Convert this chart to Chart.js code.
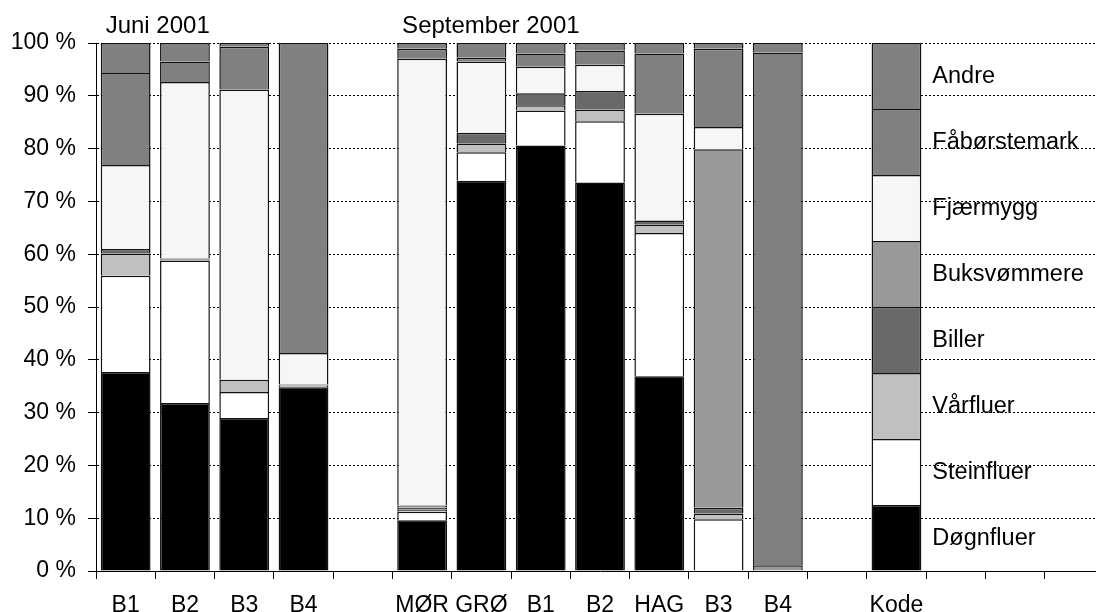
<!DOCTYPE html>
<html>
<head>
<meta charset="utf-8">
<script src="https://cdn.jsdelivr.net/npm/chart.js@4"></script>
<style>
    html, body { margin: 0; padding: 0; background: #fff; overflow: hidden; }
    #wrap { width: 1096px; height: 612px; overflow: hidden; }
</style>
</head>
<body>
<div id="wrap"><canvas id="myChart" width="1110" height="620"></canvas></div>
<script>
// data
const categories = ["B1", "B2", "B3", "B4", "", "MØR", "GRØ", "B1", "B2", "HAG", "B3", "B4", "", "Kode", "", "", ""]

const dognfluer    = [37.7, 31.8, 29.0, 34.8, null, 9.6, 73.9, 80.6, 73.6, 36.9, 0, 0, null, 12.5, null, null, null]
const steinfluer   = [18.2, 27.0, 4.9, 0.3, null, 1.6, 5.4, 6.6, 11.6, 27.1, 9.8, 0, null, 12.5, null, null, null]
const varfluer     = [4.2, 0.2, 2.3, 0.2, null, 0.4, 1.6, 1.0, 2.2, 1.6, 1.1, 0, null, 12.5, null, null, null]
const biller       = [0.9, 0.2, 0, 0, null, 0.4, 2.1, 2.3, 3.5, 0.8, 1.1, 0, null, 12.5, null, null, null]
const buksvommere  = [0, 0, 0, 0, null, 0.4, 0, 0, 0, 0, 67.9, 1.1, null, 12.5, null, null, null]
const fjaermygg    = [15.9, 33.4, 55.0, 6.0, null, 84.6, 13.5, 5.0, 5.0, 20.2, 4.2, 0, null, 12.5, null, null, null]
const faborstemark = [17.4, 3.9, 8.1, 58.7, null, 1.9, 0.7, 2.5, 2.7, 11.4, 14.8, 97.1, null, 12.5, null, null, null]
const andre        = [5.7, 3.5, 0.7, 0, null, 1.1, 2.8, 2.0, 1.4, 2.0, 1.1, 1.8, null, 12.5, null, null, null]

const seriesNames = ["Døgnfluer", "Steinfluer", "Vårfluer", "Biller", "Buksvømmere", "Fjærmygg", "Fåbørstemark", "Andre"]
const seriesData = [dognfluer, steinfluer, varfluer, biller, buksvommere, fjaermygg, faborstemark, andre]
const seriesColors = ["#000000", "#ffffff", "#c0c0c0", "#696969", "#999999", "#f6f6f6", "#808080", "#808080"]

const groupTitles = ["Juni 2001", "September 2001"]
const groupStart = [0, 5]
const keyIndex = 13

const yTicks = [0, 10, 20, 30, 40, 50, 60, 70, 80, 90, 100]

const FONT = '"Liberation Sans", Arial, sans-serif'

function main() {
    buildChart("myChart")
}

// functions
function buildChart(canvasId) {
    const ctx = document.getElementById(canvasId)

    new Chart(ctx, {
        type: 'bar',
        data: {
            labels: categories,
            datasets: chartDatasets()
        },
        options: chartOptions(),
        plugins: [textPlugin]
    })
}

function chartDatasets() {
    return seriesNames.map((name, i) => ({
        label: name,
        data: seriesData[i],
        backgroundColor: seriesColors[i],
        borderColor: '#111',
        borderWidth: 1.5,
        barPercentage: 0.84,
        categoryPercentage: 1
    }))
}

function chartOptions() {
    return {
        responsive: false,
        animation: false,
        layout: { padding: { top: 43, right: 6, left: 0, bottom: 0 } },
        plugins: {
            legend: { display: false },
            tooltip: { enabled: false }
        },
        scales: {
            x: {
                stacked: true,
                grid: { drawOnChartArea: false, tickLength: 8, color: '#000', offset: true },
                border: { color: '#000' },
                ticks: { color: '#000', font: { family: FONT, size: 23 }, padding: 13, maxRotation: 0, autoSkip: false },
                afterFit(scale) { scale.height = 49 }
            },
            y: {
                stacked: true,
                min: 0,
                max: 100,
                afterBuildTicks(scale) { scale.ticks = yTicks.map(v => ({ value: v })) },
                grid: { color: '#000', tickLength: 8 },
                border: { color: '#000', dash: [2, 2] },
                ticks: {
                    color: '#000',
                    font: { family: FONT, size: 23 },
                    padding: 12,
                    callback: v => v + ' %'
                },
                afterFit(scale) { scale.width = 96 }
            }
        }
    }
}

// titles over the groups and the key labels next to the "Kode" bar
const textPlugin = {
    id: 'textPlugin',
    afterDatasetsDraw(chart) {
        const { ctx } = chart
        const x = chart.scales.x
        const y = chart.scales.y
        ctx.save()
        ctx.fillStyle = '#000'

        ctx.font = '24px ' + FONT
        ctx.textAlign = 'left'
        ctx.textBaseline = 'alphabetic'
        groupTitles.forEach((t, i) => {
            ctx.fillText(t, x.getPixelForValue(groupStart[i]) - 20, 33)
        })

        const bar = chart.getDatasetMeta(0).data[keyIndex]
        const left = bar.x + bar.width / 2 + 11
        ctx.font = '23.5px ' + FONT
        ctx.textBaseline = 'middle'
        let base = 0
        seriesData.forEach((d, i) => {
            const mid = base + d[keyIndex] / 2
            ctx.fillText(seriesNames[i], left, y.getPixelForValue(mid) + 1)
            base += d[keyIndex]
        })
        ctx.restore()
    }
}

// listeners
document.addEventListener("DOMContentLoaded", main)
</script>
</body>
</html>
